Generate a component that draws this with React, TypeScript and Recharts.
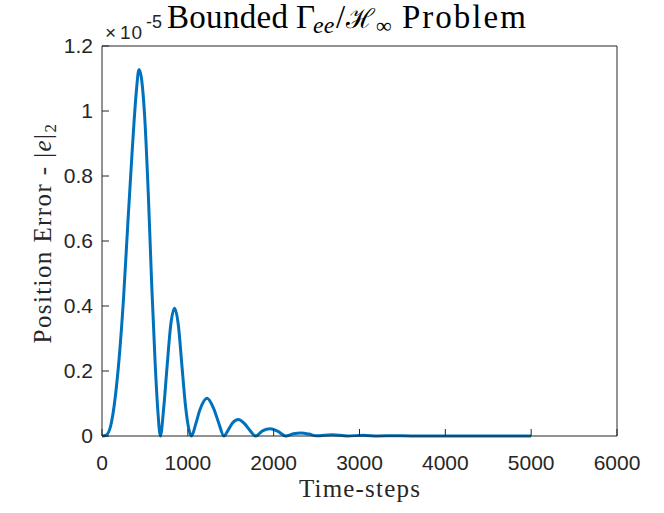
import React from 'react'
import { LineChart, Line, XAxis, YAxis } from 'recharts'

// position error |e|_2, in units of 1e-5
const timeSteps = [
  0, 50, 100, 150, 200, 250, 300, 350, 400, 431, 460, 500, 540, 580, 620, 650, 680,
  720, 760, 800, 845, 890, 930, 970, 1005, 1043,
  1090, 1140, 1224, 1300, 1360, 1420,
  1470, 1520, 1590, 1660, 1730, 1790,
  1870, 1960, 2050, 2140,
  2230, 2320, 2410, 2500,
  2680, 2860, 3040, 3220, 3400, 3600, 4000, 4500, 5000,
]
const errorE5 = [
  0, 0.003, 0.03, 0.11, 0.24, 0.42, 0.65, 0.87, 1.06, 1.128, 1.1, 0.97, 0.74, 0.46, 0.22, 0.08, 0,
  0.09, 0.22, 0.34, 0.393, 0.34, 0.22, 0.1, 0.03, 0,
  0.035, 0.08, 0.116, 0.085, 0.04, 0,
  0.018, 0.04, 0.051, 0.038, 0.015, 0,
  0.016, 0.022, 0.014, 0,
  0.007, 0.009, 0.006, 0.0005,
  0.004, 0.0003, 0.002, 0.0002, 0.001, 0.0003, 0.0003, 0.0002, 0.0002,
]
const xTicks = [0, 1000, 2000, 3000, 4000, 5000, 6000]
const yTicks = [0, 0.2, 0.4, 0.6, 0.8, 1, 1.2]

const data = timeSteps.map((t, i) => ({ t, e: errorE5[i] }))

const axisColor = '#262626'
const sans = 'Liberation Sans, Arial, sans-serif'
const serif = 'Liberation Serif, Times New Roman, serif'
const tickFont = { fill: axisColor, fontSize: 21, fontFamily: sans }

export default function App() {
  return (
    <div style={{ position: 'absolute', left: 0, top: 0, width: 664, height: 513, background: '#fff' }}>
      <LineChart width={664} height={513} data={data} margin={{ top: 45, right: 46, left: 0, bottom: 0 }}>
        <XAxis
          dataKey="t"
          type="number"
          domain={[0, 6000]}
          ticks={xTicks}
          height={77}
          tick={tickFont}
          tickSize={-7}
          tickMargin={26}
          stroke={axisColor}
          interval={0}
        />
        <XAxis
          xAxisId="top"
          dataKey="t"
          type="number"
          orientation="top"
          domain={[0, 6000]}
          ticks={xTicks}
          height={1}
          tick={false}
          tickSize={-7}
          stroke={axisColor}
        />
        <YAxis
          type="number"
          domain={[0, 1.2]}
          ticks={yTicks}
          width={102}
          tick={tickFont}
          tickSize={-7}
          tickMargin={16}
          tickFormatter={(v: number) => String(Number(v.toFixed(1)))}
          stroke={axisColor}
          interval={0}
        />
        <YAxis
          yAxisId="right"
          orientation="right"
          type="number"
          domain={[0, 1.2]}
          ticks={yTicks}
          width={1}
          tick={false}
          tickSize={-7}
          stroke={axisColor}
        />
        <Line
          type="monotone"
          dataKey="e"
          stroke="#0072BD"
          strokeWidth={3}
          dot={false}
          isAnimationActive={false}
        />
      </LineChart>
      <svg
        width={664}
        height={513}
        style={{ position: 'absolute', left: 0, top: 0, pointerEvents: 'none' }}
      >
        {/* axis exponent */}
        <text y={39} fill={axisColor} fontSize={19} fontFamily={sans}>
          <tspan x={105}>×</tspan>
          <tspan x={120} letterSpacing={1}>10</tspan>
          <tspan x={146} y={28} fontSize={18}>-5</tspan>
        </text>
        {/* title */}
        <text y={28} fill="#000" fontSize={33} fontFamily={serif}>
          <tspan x={167} letterSpacing={0.3}>Bounded</tspan>
          <tspan x={296}>Γ</tspan>
          <tspan x={313} y={33} fontSize={24} fontStyle="italic">ee</tspan>
          <tspan x={336} y={28}>/</tspan>
          <tspan x={346} fontSize={27}>ℋ</tspan>
          <tspan x={376} y={33} fontSize={22}>∞</tspan>
          <tspan x={402} y={28} letterSpacing={2}>Problem</tspan>
        </text>
        <text x={360} y={497} textAnchor="middle" fill={axisColor} fontSize={25} letterSpacing={1.2} fontFamily={serif}>
          Time-steps
        </text>
        <text
          x={0}
          y={0}
          transform="translate(51 233) rotate(-90)"
          textAnchor="middle"
          fill={axisColor}
          fontSize={25}
          letterSpacing={1.4}
          fontFamily={serif}
        >
          Position Error - |<tspan fontStyle="italic">e</tspan>|
          <tspan fontSize={17} dy={5}>2</tspan>
        </text>
      </svg>
    </div>
  )
}
